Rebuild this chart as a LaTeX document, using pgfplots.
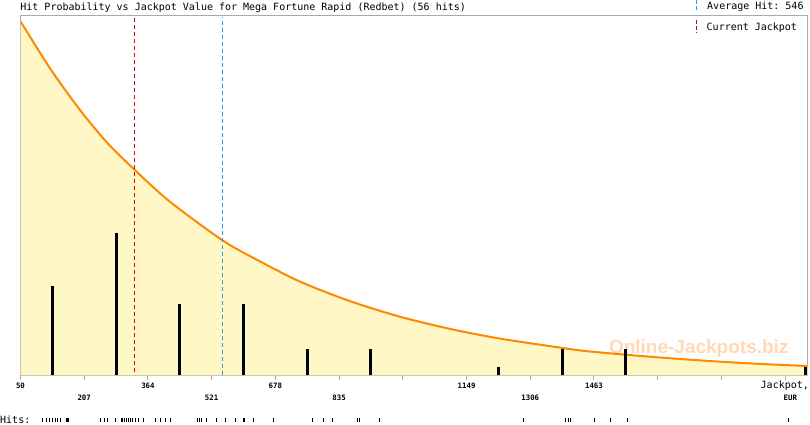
\documentclass[border=0pt]{standalone}
\usepackage{pgfplots}
\pgfplotsset{compat=1.18}
\usepackage{fontspec}
\setmonofont{DejaVu Sans Mono}
\newfontfamily\wmfont{Liberation Sans}
\definecolor{jpfill}{HTML}{FFF8C6}
\definecolor{jpcurve}{HTML}{FF8800}
\definecolor{jpred}{HTML}{DD0000}
\definecolor{jpblue}{HTML}{2E9BE0}
\definecolor{framegray}{HTML}{AAAAAA}
\definecolor{wmcolor}{HTML}{FFC896}
\newcommand\mono{\fontsize{10}{11}\selectfont\ttfamily}
\newcommand\tickmono{\fontsize{7.4}{8}\selectfont\ttfamily\bfseries}

\begin{document}
\begin{tikzpicture}[x=1pt,y=1pt]
\path[use as bounding box] (0,0) rectangle (810,425);

\begin{axis}[
    at={(20.5pt,49.5pt)}, anchor=south west,
    scale only axis, width=787pt, height=360pt,
    xmin=50, xmax=1989.1, ymin=0, ymax=40.45,
    ytick=\empty,
    xtick={50,364,678,992,1149,1463,1620,1777,1934},
    xticklabels={50,364,678,,1149,1463,,,},
    extra x ticks={207,521,835,1306},
    extra x tick labels={207,521,835,1306},
    extra x tick style={xticklabel style={yshift=-12.4pt}},
    xtick pos=left, tick align=outside, major tick length=5pt,
    tick style={draw=framegray, line width=1pt},
    axis line style={draw=framegray, line width=1pt},
    xticklabel style={font=\tickmono, anchor=base, yshift=-7.8pt, inner sep=0pt},
]
% probability curve
\addplot[draw=none, fill=jpfill] coordinates {
(50,39.80)(122.2,34.55)(196.1,29.87)(261.9,26.24)(329.9,23.17)(417.9,19.54)
(546.7,15.22)(631.5,13.03)(738.2,10.56)(861.4,8.36)(984.6,6.61)(1107.8,5.24)
(1230.9,4.15)(1386.2,3.09)(1452.7,2.70)(1600.5,2.11)(1723.7,1.70)(1846.9,1.36)
(1984.9,1.07)(1989.1,1.06)
} \closedcycle;

\node[font=\wmfont\bfseries\fontsize{19}{20}\selectfont, text=wmcolor, opacity=0.7,
      anchor=base west, inner sep=0pt] at (axis cs:1499.5,2.45) {Online-Jackpots.biz};

\addplot[jpcurve, line width=2pt, smooth] coordinates {
(50,39.80)(122.2,34.55)(196.1,29.87)(261.9,26.24)(329.9,23.17)(417.9,19.54)
(546.7,15.22)(631.5,13.03)(738.2,10.56)(861.4,8.36)(984.6,6.61)(1107.8,5.24)
(1230.9,4.15)(1386.2,3.09)(1452.7,2.70)(1600.5,2.11)(1723.7,1.70)(1846.9,1.36)
(1984.9,1.07)(1989.1,1.06)
};

% hits per 157 EUR bin
\addplot[ycomb, black, line width=3pt] coordinates {
(128.8,10)(285.5,16)(442.5,8)(599.5,8)(756.5,3)(913.5,3)
(1227.5,1)(1384.5,3)(1541.5,3)(1985,1)
};

\addplot[jpred, line width=1pt, dash pattern=on 4pt off 3pt] coordinates {(330.9,0.39)(330.9,40.28)};
\addplot[jpblue, line width=1pt, dash pattern=on 4pt off 3pt] coordinates {(547.7,0)(547.7,40.28)};
\end{axis}

% strip of single hits
\begin{axis}[
    at={(0pt,2.7pt)}, anchor=south west,
    scale only axis, width=810pt, height=4pt,
    xmin=0, xmax=810, ymin=0, ymax=1,
    hide axis, clip=false,
]
\addplot[ycomb, black, line width=1pt] coordinates {
(42.5,1)(46.5,1)(49.5,1)(52.5,1)(55.5,1)(57.5,1)(60.5,1)(66.5,1)(67.5,1)(68.5,1)
(100.5,1)(104.5,1)(107.5,1)(115.5,1)(121.5,1)(122.5,1)(124.5,1)(126.5,1)(128.5,1)
(130.5,1)(132.5,1)(135.5,1)(138.5,1)(143.5,1)(155.5,1)(160.5,1)(165.5,1)(170.5,1)
(197.5,1)(199.5,1)(201.5,1)(206.5,1)(216.5,1)(225.5,1)(235.5,1)(243.5,1)(244.5,1)
(253.5,1)(273.5,1)(312.5,1)(323.5,1)(332.5,1)(357.5,1)(359.5,1)(379.5,1)
(523.5,1)(565.5,1)(568.5,1)(570.5,1)(594.5,1)(610.5,1)(627.5,1)(788.5,1)
};
\end{axis}

\node[font=\mono, anchor=base west, inner sep=0pt] at (20.2,414.3)
  {Hit Probability vs Jackpot Value for Mega Fortune Rapid (Redbet) (56 hits)};
\node[font=\mono, anchor=base west, inner sep=0pt] at (707,415) {Average Hit: 546};
\node[font=\mono, anchor=base west, inner sep=0pt] at (706.5,394.5) {Current Jackpot};
\draw[jpblue, line width=1pt, dash pattern=on 4pt off 2pt] (696.5,425) -- (696.5,415);
\draw[jpred, line width=1pt, dash pattern=on 4pt off 2pt] (696.5,404.5) -- (696.5,392);
\node[font=\mono, anchor=base west, inner sep=0pt] at (760.5,36.3) {Jackpot,};
\node[font=\tickmono, anchor=base west, inner sep=0pt] at (783.5,24.3) {EUR};
\node[font=\mono, anchor=base west, inner sep=0pt] at (0,1.5) {Hits:};
\end{tikzpicture}
\end{document}
